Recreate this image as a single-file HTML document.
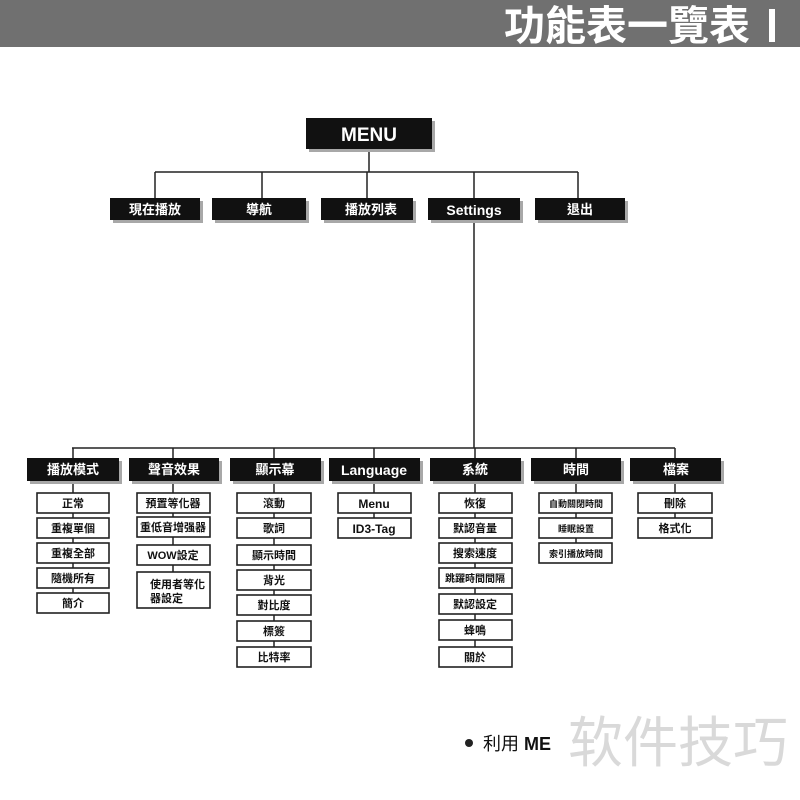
<!DOCTYPE html>
<html><head><meta charset="utf-8"><style>
html,body{margin:0;padding:0;background:#fff;width:800px;height:800px;overflow:hidden}
svg text{font-family:"Liberation Sans","Noto Sans CJK TC",sans-serif}
.h{fill:#fff;font-weight:bold;font-size:13px;text-anchor:middle}
.i{fill:#111;font-weight:bold;font-size:11px;text-anchor:middle}
.sh{fill:#a8a8a8}
.bk{fill:#111}
.bx{fill:#fff;stroke:#222;stroke-width:1.6}
.ln{stroke:#222;stroke-width:1.5;fill:none}
</style></head><body>
<svg width="800" height="800" viewBox="0 0 800 800" xmlns="http://www.w3.org/2000/svg">
<rect x="0" y="0" width="800" height="47" fill="#707070"/>
<text x="504" y="40" font-size="41" font-weight="bold" fill="#fff" style="font-family:'Noto Sans CJK TC',sans-serif">功能表一覽表</text>
<rect x="769" y="9" width="6" height="33" fill="#fff"/>

<path class="ln" d="M369 149V172M155 172H578M155 172V198M262 172V198M367 172V198M474 172V198M578 172V198M474 220V448M72 448H675M73 448V458M173 448V458M274 448V458M374 448V458M475 448V458M576 448V458M675 448V458"/>
<path class="ln" d="M73 481V593M173 481V572M274 481V647M374 481V518M475 481V647M576 481V543M675 481V518"/>

<rect class="sh" x="309" y="121" width="126" height="31"/>
<rect class="bk" x="306" y="118" width="126" height="31"/>
<text x="369" y="141" class="h" style="font-size:19px">MENU</text>

<g>
<rect class="sh" x="113" y="201" width="90" height="22"/><rect class="bk" x="110" y="198" width="90" height="22"/><text class="h" x="155" y="214">現在播放</text>
<rect class="sh" x="215" y="201" width="94" height="22"/><rect class="bk" x="212" y="198" width="94" height="22"/><text class="h" x="259" y="214">導航</text>
<rect class="sh" x="324" y="201" width="92" height="22"/><rect class="bk" x="321" y="198" width="92" height="22"/><text class="h" x="371" y="214">播放列表</text>
<rect class="sh" x="431" y="201" width="92" height="22"/><rect class="bk" x="428" y="198" width="92" height="22"/><text class="h" x="474" y="215" style="font-size:14px">Settings</text>
<rect class="sh" x="538" y="201" width="90" height="22"/><rect class="bk" x="535" y="198" width="90" height="22"/><text class="h" x="580" y="214">退出</text>
</g>

<g>
<rect class="sh" x="30" y="461" width="92" height="23"/><rect class="bk" x="27" y="458" width="92" height="23"/><text class="h" x="73" y="474">播放模式</text>
<rect class="sh" x="132" y="461" width="90" height="23"/><rect class="bk" x="129" y="458" width="90" height="23"/><text class="h" x="174" y="474">聲音效果</text>
<rect class="sh" x="233" y="461" width="91" height="23"/><rect class="bk" x="230" y="458" width="91" height="23"/><text class="h" x="275" y="474">顯示幕</text>
<rect class="sh" x="332" y="461" width="91" height="23"/><rect class="bk" x="329" y="458" width="91" height="23"/><text class="h" x="374" y="475" style="font-size:14px">Language</text>
<rect class="sh" x="433" y="461" width="91" height="23"/><rect class="bk" x="430" y="458" width="91" height="23"/><text class="h" x="475" y="474">系統</text>
<rect class="sh" x="534" y="461" width="90" height="23"/><rect class="bk" x="531" y="458" width="90" height="23"/><text class="h" x="576" y="474">時間</text>
<rect class="sh" x="633" y="461" width="91" height="23"/><rect class="bk" x="630" y="458" width="91" height="23"/><text class="h" x="676" y="474">檔案</text>
</g>

<g>
<rect class="bx" x="37" y="493" width="72" height="20"/><text class="i" x="73" y="507">正常</text>
<rect class="bx" x="37" y="518" width="72" height="20"/><text class="i" x="73" y="532">重複單個</text>
<rect class="bx" x="37" y="543" width="72" height="20"/><text class="i" x="73" y="557">重複全部</text>
<rect class="bx" x="37" y="568" width="72" height="20"/><text class="i" x="73" y="582">隨機所有</text>
<rect class="bx" x="37" y="593" width="72" height="20"/><text class="i" x="73" y="607">簡介</text>
</g>
<g>
<rect class="bx" x="137" y="493" width="73" height="20"/><text class="i" x="173" y="507">預置等化器</text>
<rect class="bx" x="137" y="517" width="73" height="20"/><text class="i" x="173" y="531">重低音增强器</text>
<rect class="bx" x="137" y="545" width="73" height="20"/><text class="i" x="173" y="559">WOW設定</text>
<rect class="bx" x="137" y="572" width="73" height="36"/><text class="i" x="150" y="588" style="text-anchor:start">使用者等化</text><text class="i" x="150" y="602" style="text-anchor:start">器設定</text>
</g>
<g>
<rect class="bx" x="237" y="493" width="74" height="20"/><text class="i" x="274" y="507">滾動</text>
<rect class="bx" x="237" y="518" width="74" height="20"/><text class="i" x="274" y="532">歌詞</text>
<rect class="bx" x="237" y="545" width="74" height="20"/><text class="i" x="274" y="559">顯示時間</text>
<rect class="bx" x="237" y="570" width="74" height="20"/><text class="i" x="274" y="584">背光</text>
<rect class="bx" x="237" y="595" width="74" height="20"/><text class="i" x="274" y="609">對比度</text>
<rect class="bx" x="237" y="621" width="74" height="20"/><text class="i" x="274" y="635">標簽</text>
<rect class="bx" x="237" y="647" width="74" height="20"/><text class="i" x="274" y="661">比特率</text>
</g>
<g>
<rect class="bx" x="338" y="493" width="73" height="20"/><text class="i" x="374" y="508" style="font-size:12px">Menu</text>
<rect class="bx" x="338" y="518" width="73" height="20"/><text class="i" x="374" y="533" style="font-size:12px">ID3-Tag</text>
</g>
<g>
<rect class="bx" x="439" y="493" width="73" height="20"/><text class="i" x="475" y="507">恢復</text>
<rect class="bx" x="439" y="518" width="73" height="20"/><text class="i" x="475" y="532">默認音量</text>
<rect class="bx" x="439" y="543" width="73" height="20"/><text class="i" x="475" y="557">搜索速度</text>
<rect class="bx" x="439" y="568" width="73" height="20"/><text class="i" x="475" y="582" style="font-size:10px">跳躍時間間隔</text>
<rect class="bx" x="439" y="594" width="73" height="20"/><text class="i" x="475" y="608">默認設定</text>
<rect class="bx" x="439" y="620" width="73" height="20"/><text class="i" x="475" y="634">蜂鳴</text>
<rect class="bx" x="439" y="647" width="73" height="20"/><text class="i" x="475" y="661">關於</text>
</g>
<g>
<rect class="bx" x="539" y="493" width="73" height="20"/><text class="i" x="576" y="507" style="font-size:9px">自動關閉時間</text>
<rect class="bx" x="539" y="518" width="73" height="20"/><text class="i" x="576" y="532" style="font-size:9px">睡眠設置</text>
<rect class="bx" x="539" y="543" width="73" height="20"/><text class="i" x="576" y="557" style="font-size:9px">索引播放時間</text>
</g>
<g>
<rect class="bx" x="638" y="493" width="74" height="20"/><text class="i" x="675" y="507">刪除</text>
<rect class="bx" x="638" y="518" width="74" height="20"/><text class="i" x="675" y="532">格式化</text>
</g>

<circle cx="469" cy="743" r="4" fill="#222"/>
<text x="483" y="750" font-size="18" fill="#111">利用 <tspan font-weight="bold">ME</tspan></text>
<text x="568" y="762" font-size="55" fill="#d9d9d9" style="font-family:'Noto Sans CJK SC',sans-serif">软件技巧</text>
</svg>
</body></html>
